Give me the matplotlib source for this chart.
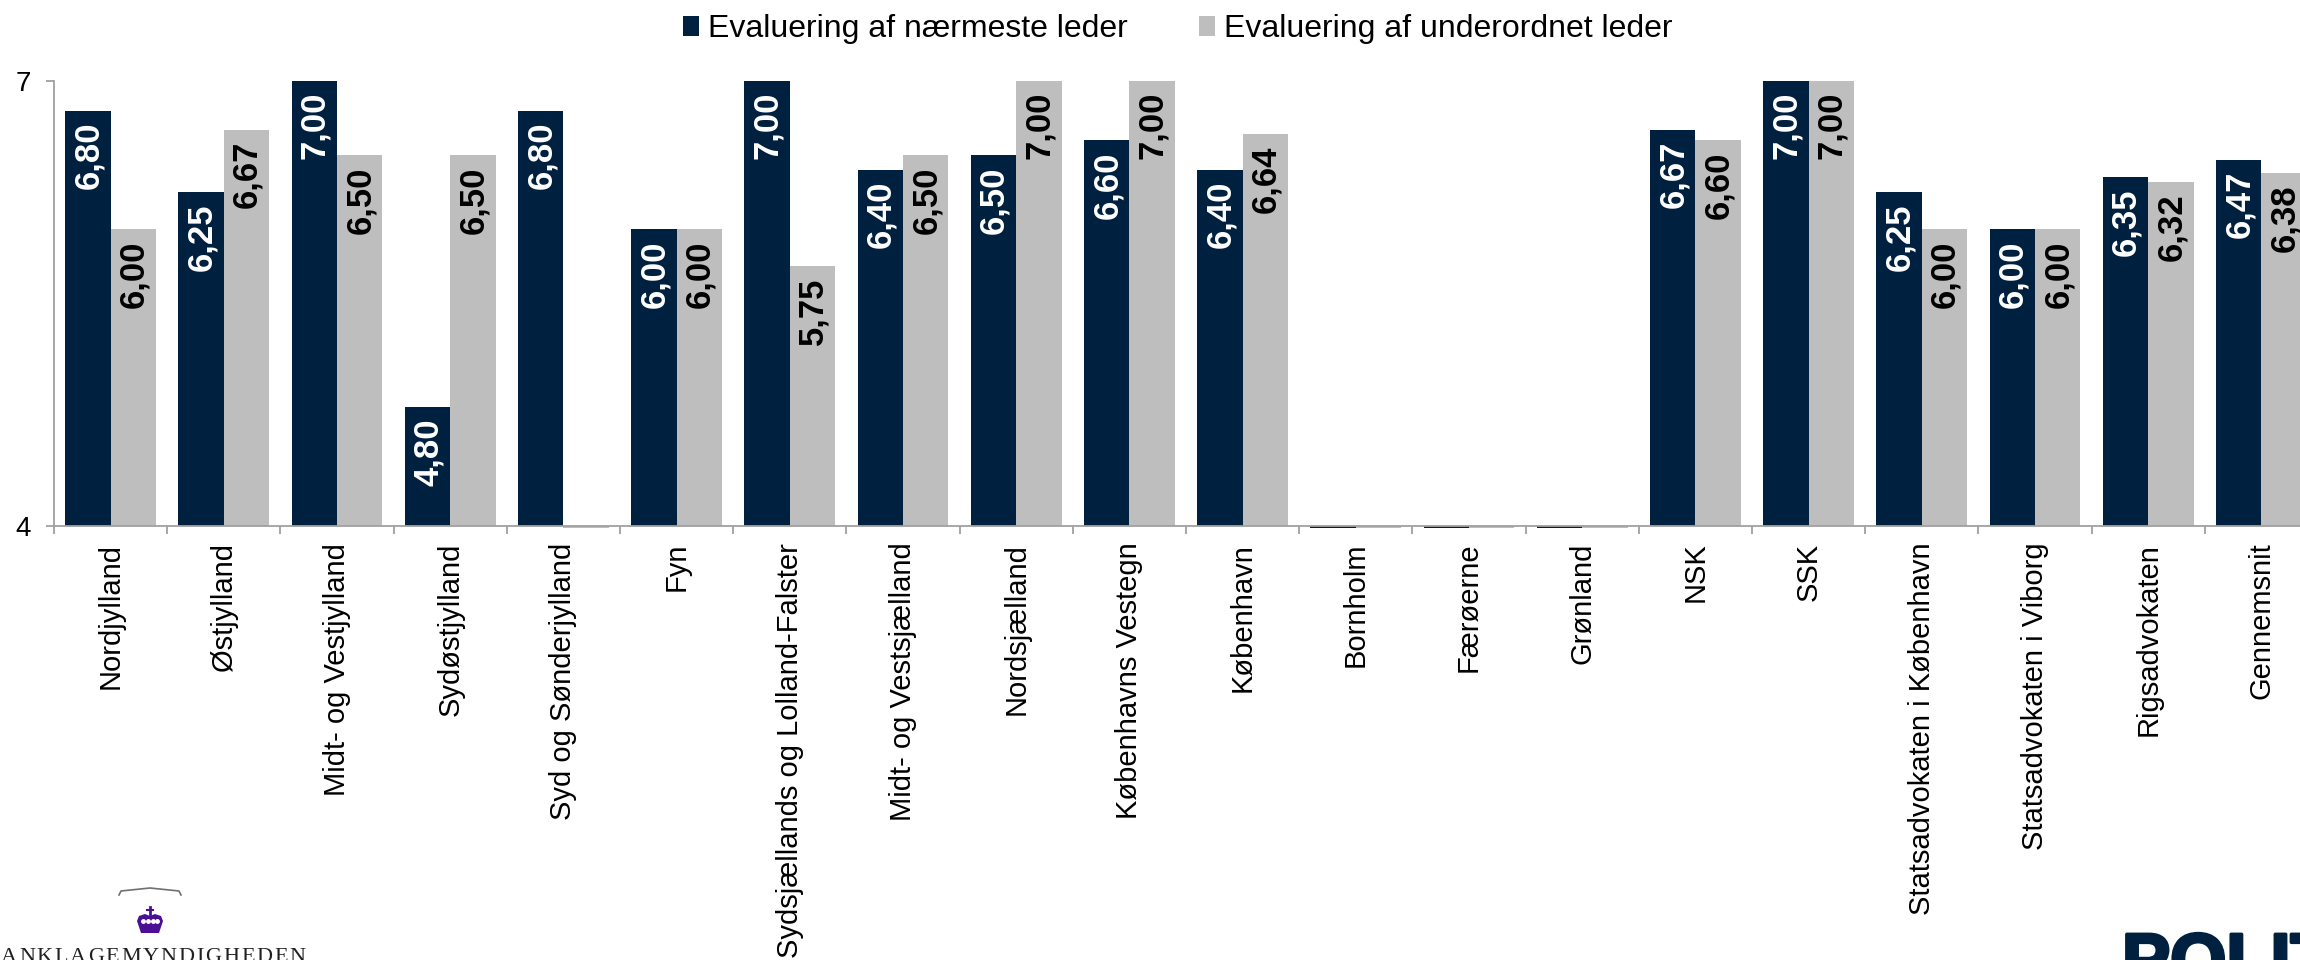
import matplotlib
matplotlib.use('Agg')
import matplotlib.pyplot as plt
import matplotlib.patheffects as pe
import numpy as np

plt.rcParams['font.family'] = ['Liberation Sans', 'DejaVu Sans']

navy = '#002040'
grey = '#BEBEBE'
axis_col = '#A0A0A0'
purple = '#4B0F96'

categories = ['Nordjylland', 'Østjylland', 'Midt- og Vestjylland', 'Sydøstjylland',
              'Syd og Sønderjylland', 'Fyn', 'Sydsjællands og Lolland-Falster',
              'Midt- og Vestsjælland', 'Nordsjælland', 'Københavns Vestegn',
              'København', 'Bornholm', 'Færøerne', 'Grønland', 'NSK', 'SSK',
              'Statsadvokaten i København', 'Statsadvokaten i Viborg',
              'Rigsadvokaten', 'Gennemsnit']
naermeste = [6.80, 6.25, 7.00, 4.80, 6.80, 6.00, 7.00, 6.40, 6.50, 6.60, 6.40,
             np.nan, np.nan, np.nan, 6.67, 7.00, 6.25, 6.00, 6.35, 6.47]
underordnet = [6.00, 6.67, 6.50, 6.50, np.nan, 6.00, 5.75, 6.50, 7.00, 7.00, 6.64,
               np.nan, np.nan, np.nan, 6.60, 7.00, 6.00, 6.00, 6.32, 6.38]
names = ['Evaluering af nærmeste leder', 'Evaluering af underordnet leder']

W, H = 2300, 960
fig = plt.figure(figsize=(W / 100, H / 100), dpi=100)
# akserne går ud over figurens højre kant ligesom i originalen
step = 113.2
left, right, top, bottom = 54, 54 + 20 * step, 81, 526
ax = fig.add_axes([left / W, 1 - bottom / H, (right - left) / W, (bottom - top) / H])

x = np.arange(len(categories)) + 0.5
bw = 45.4 / step
for vals, col, off, tc, name in [(naermeste, navy, -bw / 2, 'white', names[0]),
                                 (underordnet, grey, bw / 2, 'black', names[1])]:
    vals = np.array(vals)
    ok = ~np.isnan(vals)
    ax.bar(x[ok] + off, vals[ok] - 4, bw, bottom=4, color=col, label=name)
    # tomme værdier ses kun som en tynd streg under aksen
    ax.bar(x[~ok] + off, -0.012, bw, bottom=4, color=col, clip_on=False)
    for xi, v in zip(x[ok] + off, vals[ok]):
        ax.annotate(('%.2f' % v).replace('.', ','), (xi, v), xytext=(0.5, -8),
                    textcoords='offset points', rotation=90, ha='center', va='top',
                    color=tc, fontsize=25, fontweight='bold')

ax.set_xlim(0, len(categories))
ax.set_ylim(4, 7)
ax.set_yticks([4, 7])
ax.set_xticks(np.arange(len(categories) + 1))
ax.set_xticklabels([])
for xi, c in zip(x, categories):
    ax.annotate(c, (xi, 4), xytext=(0, -12), textcoords='offset points', rotation=90,
                ha='center', va='top', fontsize=21, color='black', annotation_clip=False)
ax.tick_params(axis='x', length=5.8, width=1.3, color=axis_col)
ax.tick_params(axis='y', length=5.8, width=1.3, color=axis_col, labelsize=20, pad=11)
ax.spines['top'].set_visible(False)
ax.spines['right'].set_visible(False)
for s in ['left', 'bottom']:
    ax.spines[s].set_color(axis_col)
    ax.spines[s].set_linewidth(1.3)

fig.legend(loc='upper center', bbox_to_anchor=(0.512, 1.015), ncol=2, frameon=False,
           fontsize=23, handlelength=0.5, handleheight=0.56, handletextpad=0.28,
           columnspacing=2.25)

# logoer
fig.add_artist(plt.Line2D([119 / W, 121 / W, 150 / W, 179 / W, 181 / W],
                          [1 - 895 / H, 1 - 891 / H, 1 - 888 / H, 1 - 891 / H, 1 - 895 / H],
                          color='#707070', lw=1.2))


def px(points):
    return [(a / W, 1 - b / H) for a, b in points]


crown = [(141, 933), (159, 933), (163, 921), (161, 916), (155, 914), (150, 916), (145, 914),
         (139, 916), (137, 921)]
fig.add_artist(plt.Polygon(px(crown), closed=True, color=purple, lw=0))
fig.add_artist(plt.Line2D([150 / W, 150 / W], [1 - 907 / H, 1 - 915 / H], color=purple, lw=2))
fig.add_artist(plt.Line2D([147 / W, 153 / W], [1 - 910 / H, 1 - 910 / H], color=purple, lw=1.5))
fig.add_artist(plt.Line2D([143 / W, 147.5 / W, 152.5 / W, 157 / W], [1 - 921 / H] * 4,
                          color='white', lw=0, marker='o', ms=2.5))

# bogstaverne sættes enkeltvis for at få spærringen
renderer = fig.canvas.get_renderer()
pos = 1
for ch in 'ANKLAGEMYNDIGHEDEN':
    t = fig.text(pos / W, 1 - 948 / H, ch, color='#202020', fontsize=16, ha='left',
                 va='top', family='Liberation Serif')
    pos += t.get_window_extent(renderer).width + 1.8

fig.text(2122 / W, 1 - 984 / H, 'POLITI', color=navy, fontsize=52, ha='left', va='baseline',
         fontweight='bold', path_effects=[pe.withStroke(linewidth=2.5, foreground=navy)])

fig.savefig('out.png', dpi=100)
